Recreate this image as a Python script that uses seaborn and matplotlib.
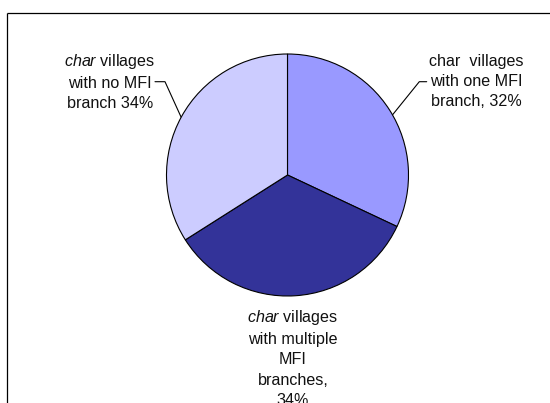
import matplotlib
matplotlib.use("Agg")
import matplotlib.pyplot as plt
import seaborn as sns

categories = ["one MFI branch", "multiple MFI branches", "no MFI branch"]
shares = [32, 34, 34]
slice_colors = ["#9999FF", "#333399", "#CCCCFF"]
label_texts = [
    "char  villages\nwith one MFI\nbranch, 32%",
    "$\\it{char}$ villages\nwith multiple\nMFI\nbranches,\n34%",
    "$\\it{char}$ villages\nwith no MFI\nbranch 34%",
]

sns.set_style("white")
plt.rcParams["font.family"] = ["Liberation Sans", "DejaVu Sans"]
plt.rcParams["mathtext.fontset"] = "custom"
plt.rcParams["mathtext.it"] = "Liberation Sans:italic"
plt.rcParams["mathtext.rm"] = "Liberation Sans"

W, H = 550, 403
fig = plt.figure(figsize=(W / 100, H / 100), dpi=100)
fig.patch.set_facecolor("white")

# background axes in pixel coordinates
bg = fig.add_axes([0, 0, 1, 1])
bg.set_xlim(0, W)
bg.set_ylim(H, 0)
bg.axis("off")

# frame (right and bottom edges fall outside the image)
bg.plot([7.4, 7.4], [13.4, H + 5], color="black", lw=0.9, solid_capstyle="butt")
bg.plot([7.4, W + 5], [13.4, 13.4], color="black", lw=0.9, solid_capstyle="butt")

# pie axes
cx, cy, rx, ry = 287.5, 175, 121, 121
pax = fig.add_axes([(cx - rx) / W, (H - cy - ry) / H, 2 * rx / W, 2 * ry / H])
pax.pie(shares, colors=slice_colors, startangle=90, counterclock=False,
        wedgeprops=dict(edgecolor="black", linewidth=0.8))
pax.set_aspect("auto")
pax.set_xlim(-1, 1)
pax.set_ylim(-1, 1)
pax.axis("off")

fs = 11.6
positions = [(476, 81.5), (293, 358), (110, 81.5)]
for txt, (x, y) in zip(label_texts, positions):
    bg.text(x, y, txt, ha="center", va="center", multialignment="center",
            fontsize=fs, color="#111111", linespacing=1.43)

# leader lines
bg.plot([392, 419.3, 426.7], [115.5, 81.7, 81.7], color="black", lw=0.8)
bg.plot([181.5, 165, 155], [118, 81.7, 81.7], color="black", lw=0.8)

fig.savefig("out.png", dpi=100)
